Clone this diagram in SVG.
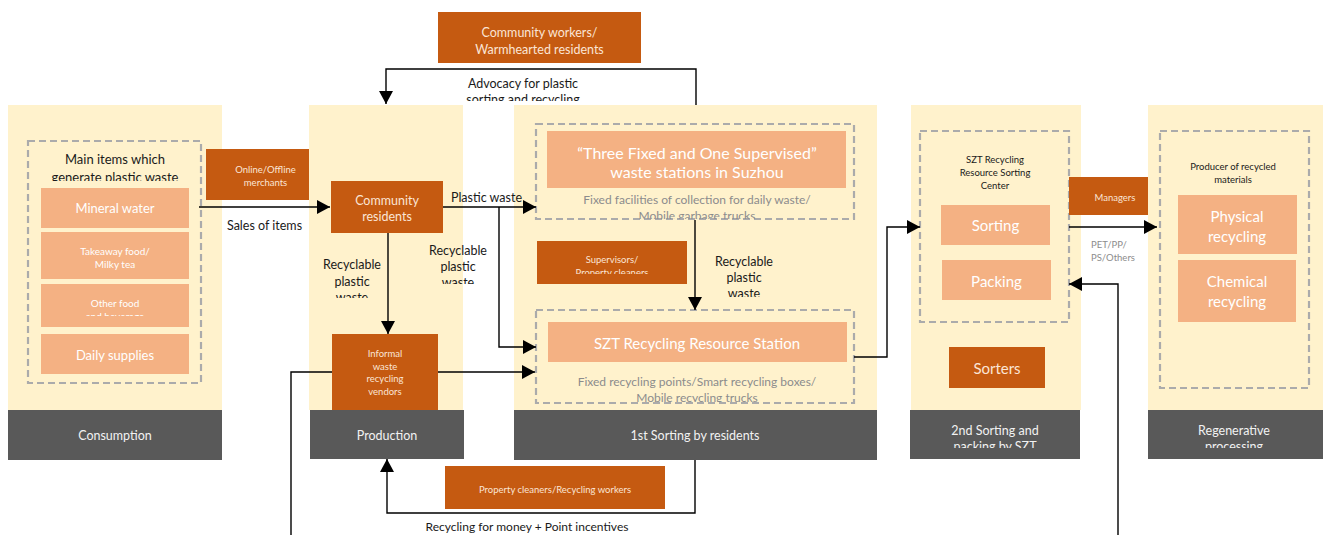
<svg xmlns="http://www.w3.org/2000/svg" width="1323" height="535" viewBox="0 0 1323 535">
<style>
.col{fill:#FFF2CC}
.bar{fill:#595959}
.dk{fill:#C55A11}
.sal{fill:#F4B183}
.dash{fill:none;stroke:#ABABAB;stroke-width:2.2;stroke-dasharray:7 4}
text{font-family:Lato,"Open Sans","Liberation Sans",sans-serif;text-anchor:middle}
.w{fill:#FFFFFF}
.wl{fill:#FBE5D6}
.k{fill:#1A1A1A}
.g{fill:#8C8C8C}
.bt{fill:#F2F2F2;font-size:12.5px}
.s95{font-size:9.5px}
.s10{font-size:10px}
.s12{font-size:12px}
.s125{font-size:12.5px}
.s13{font-size:13px}
.s15{font-size:15px}
.s16{font-size:16px}
.conn path{fill:none;stroke:#000;stroke-width:1.4}
</style>
<defs>
<marker id="ah" markerUnits="userSpaceOnUse" markerWidth="14" markerHeight="14" refX="13" refY="7" orient="auto">
<path d="M0,0 L13,7 L0,14 z" fill="#000"/>
</marker>
<clipPath id="c1"><rect x="0" y="0" width="1323" height="181"/></clipPath>
<clipPath id="c2"><rect x="0" y="0" width="1323" height="316"/></clipPath>
<clipPath id="c3"><rect x="0" y="0" width="1323" height="101"/></clipPath>
<clipPath id="c4"><rect x="0" y="0" width="1323" height="298"/></clipPath>
<clipPath id="c5"><rect x="0" y="0" width="1323" height="284"/></clipPath>
<clipPath id="c6"><rect x="0" y="0" width="1323" height="219"/></clipPath>
<clipPath id="c7"><rect x="0" y="0" width="1323" height="274"/></clipPath>
<clipPath id="c8"><rect x="0" y="0" width="1323" height="297"/></clipPath>
<clipPath id="c9"><rect x="0" y="0" width="1323" height="402"/></clipPath>
<clipPath id="c10"><rect x="0" y="0" width="1323" height="448"/></clipPath>
</defs>
<rect width="1323" height="535" fill="#FFFFFF"/>

<g id="consumption">
<rect class="col" x="8" y="105" width="214" height="305"/>
<rect class="bar" x="8" y="410" width="214" height="50"/>
<text class="bt" x="115" y="440">Consumption</text>
<rect class="dash" x="28" y="141" width="173" height="242"/>
<text class="k s13" x="115" y="164">Main items which</text>
<text class="k s13" x="115" y="182" clip-path="url(#c1)">generate plastic waste</text>
<rect class="sal" x="41" y="188" width="148" height="40"/>
<text class="w s13" x="115" y="213">Mineral water</text>
<rect class="sal" x="41" y="232" width="148" height="47"/>
<text class="w s10" x="115" y="254.5">Takeaway food/</text>
<text class="w s10" x="115" y="267.5">Milky tea</text>
<rect class="sal" x="41" y="284" width="148" height="43"/>
<text class="w s10" x="115" y="306.5">Other food</text>
<text class="w s10" x="115" y="319.5" clip-path="url(#c2)">and beverage</text>
<rect class="sal" x="41" y="334" width="148" height="40"/>
<text class="w s13" x="115" y="359.5">Daily supplies</text>
</g>

<g id="merchants">
<rect class="dk" x="206" y="149" width="119" height="51"/>
<text class="wl s95" x="265.5" y="172.5">Online/Offline</text>
<text class="wl s95" x="265.5" y="185.5">merchants</text>
</g>

<g id="production">
<rect class="col" x="309" y="105" width="154" height="305"/>
<rect class="bar" x="310" y="410" width="154" height="49"/>
<text class="bt" x="387" y="440">Production</text>
</g>

<g id="community-residents">
<rect class="dk" x="331" y="181" width="112" height="52"/>
<text class="wl s125" x="387" y="205">Community</text>
<text class="wl s125" x="387" y="221">residents</text>
</g>

<g id="informal-vendors">
<rect class="dk" x="332" y="334" width="106" height="76"/>
<text class="wl s95" x="385" y="356.5">Informal</text>
<text class="wl s95" x="385" y="369.5">waste</text>
<text class="wl s95" x="385" y="382">recycling</text>
<text class="wl s95" x="385" y="394.5">vendors</text>
</g>

<g id="community-workers">
<rect class="dk" x="438" y="12" width="203" height="51"/>
<text class="wl s125" x="539.5" y="36.5">Community workers/</text>
<text class="wl s125" x="539.5" y="53.5">Warmhearted residents</text>
</g>

<g id="first-sorting">
<rect class="col" x="514" y="105" width="363" height="305"/>
<rect class="bar" x="514" y="410" width="363" height="50"/>
<text class="bt" x="695" y="440">1st Sorting by residents</text>
</g>

<g id="three-fixed">
<rect class="dash" x="536" y="124" width="318" height="95"/>
<rect class="sal" x="547" y="131" width="299" height="57"/>
<text class="w s16" x="697" y="158.5">“Three Fixed and One Supervised”</text>
<text class="w s16" x="697" y="177.5">waste stations in Suzhou</text>
<text class="g s12" x="697" y="204">Fixed facilities of collection for daily waste/</text>
<text class="g s12" x="697" y="220" clip-path="url(#c6)">Mobile garbage trucks</text>
</g>

<g id="supervisors">
<rect class="dk" x="537" y="241" width="150" height="43"/>
<text class="wl s95" x="612" y="262.5">Supervisors/</text>
<text class="wl s95" x="612" y="275.5" clip-path="url(#c7)">Property cleaners</text>
</g>

<g id="szt-station">
<rect class="dash" x="536" y="310" width="318" height="93"/>
<rect class="sal" x="548" y="322" width="299" height="40"/>
<text class="w s15" x="697" y="348.5">SZT Recycling Resource Station</text>
<text class="g s12" x="697" y="386">Fixed recycling points/Smart recycling boxes/</text>
<text class="g s12" x="697" y="402" clip-path="url(#c9)">Mobile recycling trucks</text>
</g>

<g id="second-sorting">
<rect class="col" x="911" y="105" width="170" height="305"/>
<rect class="bar" x="910" y="410" width="170" height="49"/>
<text class="bt" x="995" y="434.5">2nd Sorting and</text>
<text class="bt" x="995" y="450.5" clip-path="url(#c10)">packing by SZT</text>
<rect class="dash" x="920" y="131" width="149" height="191"/>
<text class="k s95" x="995" y="162.5">SZT Recycling</text>
<text class="k s95" x="995" y="175.5">Resource Sorting</text>
<text class="k s95" x="995" y="188.5">Center</text>
<rect class="sal" x="941" y="205" width="109" height="40"/>
<text class="w s15" x="995.5" y="231">Sorting</text>
<rect class="sal" x="942" y="260" width="109" height="40"/>
<text class="w s15" x="996.5" y="287">Packing</text>
</g>

<g id="sorters">
<rect class="dk" x="949" y="347" width="96" height="41"/>
<text class="wl s15" x="997" y="373.5">Sorters</text>
</g>

<g id="managers">
<rect class="dk" x="1069" y="177" width="92" height="38"/>
<text class="wl s95" x="1115" y="200.5">Managers</text>
</g>

<g id="regenerative">
<rect class="col" x="1148" y="105" width="175" height="305"/>
<rect class="bar" x="1148" y="410" width="175" height="49"/>
<text class="bt" x="1234" y="434.5">Regenerative</text>
<text class="bt" x="1234" y="450.5" clip-path="url(#c10)">processing</text>
<rect class="dash" x="1160" y="131" width="149" height="257"/>
<text class="k s95" x="1233" y="169.5">Producer of recycled</text>
<text class="k s95" x="1233" y="182.5">materials</text>
<rect class="sal" x="1178" y="195" width="119" height="59"/>
<text class="w s15" x="1237" y="222">Physical</text>
<text class="w s15" x="1237" y="241.5">recycling</text>
<rect class="sal" x="1178" y="260" width="118" height="62"/>
<text class="w s15" x="1237" y="287">Chemical</text>
<text class="w s15" x="1237" y="306.5">recycling</text>
</g>

<g id="property-cleaners">
<rect class="dk" x="445" y="466" width="220" height="43"/>
<text class="wl s95" x="555" y="492.5">Property cleaners/Recycling workers</text>
</g>

<g class="conn" id="connectors">
<path d="M199 207 H330" marker-end="url(#ah)"/>
<path d="M696 105 V69 H386 V104" marker-end="url(#ah)"/>
<path d="M443 207 H536" marker-end="url(#ah)"/>
<path d="M499 207 V347 H536" marker-end="url(#ah)"/>
<path d="M388 233 V334" marker-end="url(#ah)"/>
<path d="M438 372 H535" marker-end="url(#ah)"/>
<path d="M291 535 V372 H332"/>
<path d="M695 220 V310" marker-end="url(#ah)"/>
<path d="M854 357 H887 V227 H920" marker-end="url(#ah)"/>
<path d="M1069 227 H1157" marker-end="url(#ah)"/>
<path d="M1118 535 V284 H1069" marker-end="url(#ah)"/>
<path d="M695 460 V513 H387 V459" marker-end="url(#ah)"/>
</g>

<g id="labels">
<text class="k s125" x="264.5" y="230">Sales of items</text>
<text class="k s125" x="523" y="88">Advocacy for plastic</text>
<text class="k s125" x="523" y="104" clip-path="url(#c3)">sorting and recycling</text>
<text class="k s125" x="486.5" y="202">Plastic waste</text>
<text class="k s125" x="352" y="269">Recyclable</text>
<text class="k s125" x="352" y="286">plastic</text>
<text class="k s125" x="352" y="302" clip-path="url(#c4)">waste</text>
<text class="k s125" x="458" y="255">Recyclable</text>
<text class="k s125" x="458" y="271">plastic</text>
<text class="k s125" x="458" y="287" clip-path="url(#c5)">waste</text>
<text class="k s125" x="744" y="266">Recyclable</text>
<text class="k s125" x="744" y="282">plastic</text>
<text class="k s125" x="744" y="298" clip-path="url(#c8)">waste</text>
<text class="g s95" x="1091" y="247.5" style="text-anchor:start">PET/PP/</text>
<text class="g s95" x="1091" y="260.5" style="text-anchor:start">PS/Others</text>
<text class="k s12" x="527" y="531">Recycling for money + Point incentives</text>
</g>
</svg>
